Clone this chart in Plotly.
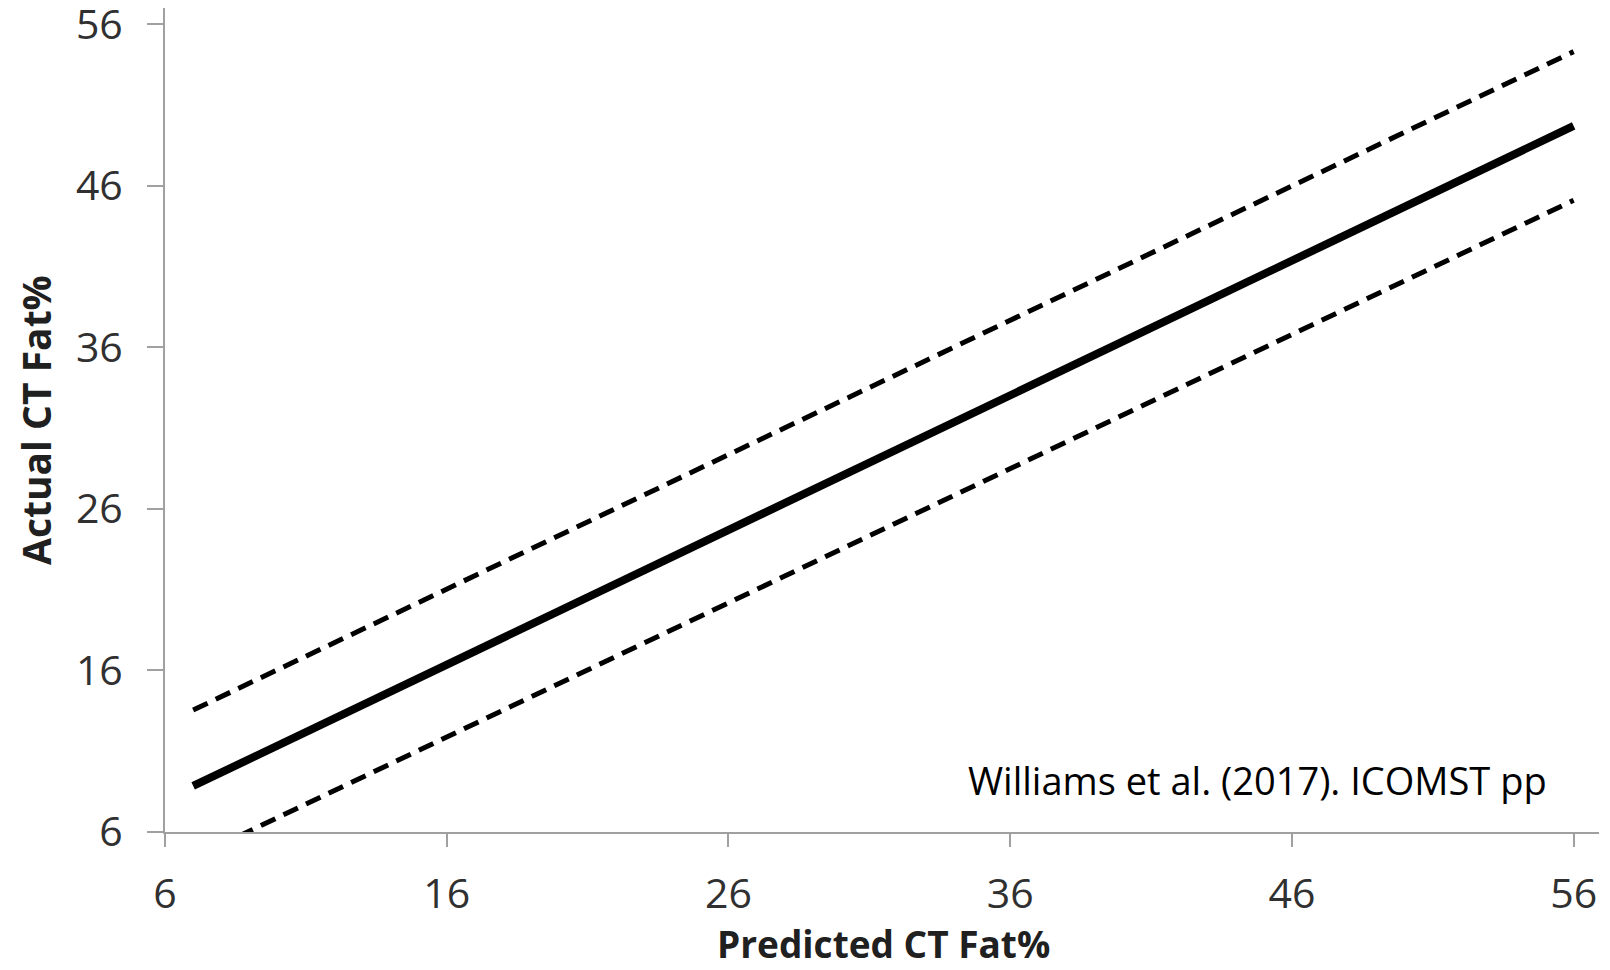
import plotly.graph_objects as go

# Data
predicted = [7, 56]
actual_fit = [8.85, 49.7]
upper_limit = [13.55, 54.3]
lower_limit = [4.4, 45.1]
tick_vals = [6, 16, 26, 36, 46, 56]
tick_text = ["6", "16", "26", "36", "46", "56"]

fig = go.Figure()
fig.add_trace(go.Scatter(x=predicted, y=upper_limit, mode="lines",
                         line=dict(color="black", width=5, dash="16px,9px"),
                         showlegend=False))
fig.add_trace(go.Scatter(x=predicted, y=actual_fit, mode="lines",
                         line=dict(color="black", width=8),
                         showlegend=False))
fig.add_trace(go.Scatter(x=predicted, y=lower_limit, mode="lines",
                         line=dict(color="black", width=5, dash="16px,9px"),
                         showlegend=False))

axis_common = dict(
    tickvals=tick_vals, ticktext=tick_text,
    showgrid=False, zeroline=False, showline=True, automargin=False,
    linecolor="#a0a0a0", linewidth=2,
    ticks="outside", tickcolor="#a0a0a0", tickwidth=2,
    tickfont=dict(family="Open Sans", size=41, color="#303030"),
    ticklabeloverflow="allow",
    fixedrange=True,
)
fig.update_xaxes(**axis_common, range=[6, 56.9], ticklen=13, ticklabelstandoff=12)
fig.update_yaxes(**axis_common, range=[6, 57], ticklen=16, ticklabelstandoff=16)

# page is offset by the 8px body margin; plot area spans page x 165..1599, y 8..832
PW, PH = 1434, 824
fig.update_layout(
    width=1594, height=954,
    margin=dict(l=157, r=3, t=0, b=130),
    plot_bgcolor="white", paper_bgcolor="white",
    annotations=[
        dict(text="<b>Predicted CT Fat%</b>", xref="paper", yref="paper",
             x=(884 - 165) / PW, y=-(943 - 832) / PH, xanchor="center", yanchor="middle",
             showarrow=False, font=dict(family="Open Sans", size=37, color="#202020")),
        dict(text="<b>Actual CT Fat%</b>", xref="paper", yref="paper",
             x=-(165 - 35) / PW, y=(832 - 420) / PH, xanchor="center", yanchor="middle",
             textangle=-90, showarrow=False,
             font=dict(family="Open Sans", size=39, color="#202020")),
        dict(text="Williams et al. (2017). ICOMST pp", xref="paper", yref="paper",
             x=(1549 - 165) / PW, y=(832 - 780) / PH, xanchor="right", yanchor="middle",
             showarrow=False, font=dict(family="Open Sans", size=38, color="black")),
    ],
)

fig.write_html("out.html")
